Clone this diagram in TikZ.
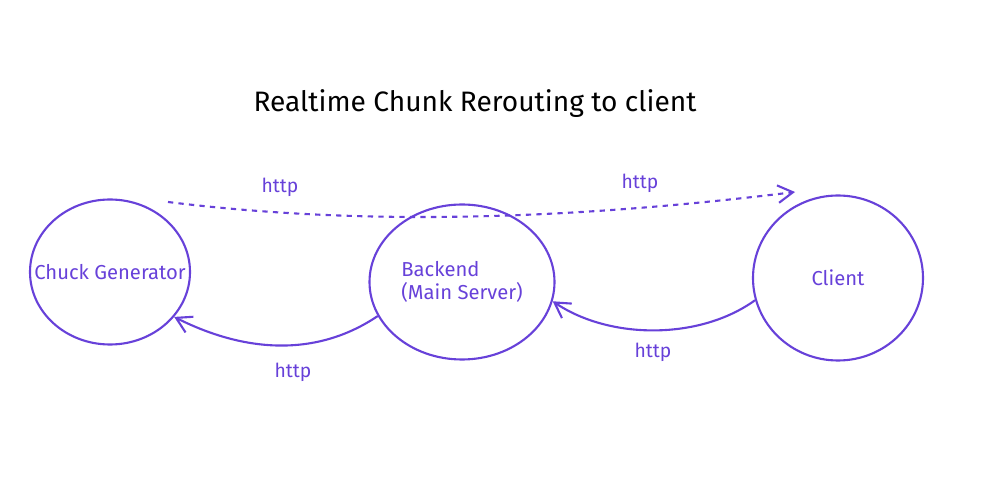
\documentclass[tikz,border=0pt]{standalone}
\usepackage{fontspec}
\setmainfont{Fira Sans}
\usetikzlibrary{shapes.geometric,arrows.meta}
\definecolor{violet}{HTML}{6741D9}
\tikzset{
  blob/.style={draw=violet,ellipse,inner sep=0pt,line width=1.2pt,text=violet,font=\fontsize{11.5}{13.5}\selectfont},
  link/.style={draw=violet,line width=1.2pt,-{Straight Barb[length=3mm,width=3.5mm]}},
  lbl/.style={text=violet,font=\fontsize{11}{13}\selectfont}
}
\begin{document}
\begin{tikzpicture}
\useasboundingbox (0,0) rectangle (20,9.64);
\node (title) at (9.5,7.56) {\fontsize{16}{19}\selectfont Realtime Chunk Rerouting to client};
\node[blob,minimum width=3.2cm,minimum height=2.9cm,
  label={[text=violet,font=\fontsize{11.5}{13.5}\selectfont]center:Chuck Generator}] (gen) at (2.2,4.2) {};
\node[blob,minimum width=3.7cm,minimum height=3.1cm,align=left] (backend) at (9.24,4.0) {Backend\\(Main Server)};
\node[blob,minimum width=3.4cm,minimum height=3.3cm] (client) at (16.76,4.08) {Client};
\coordinate (start) at (3.36,5.6);
\coordinate (stop) at (15.9,5.8);
% dashed request path over the top
\draw[link,dashed] (start) .. controls (7,5.15) and (11,5.2) .. (stop);
\draw[link] (backend.-158) .. controls (6.4,2.54) and (5,2.54) .. (gen.-35);
\draw[link] (client.195) .. controls (14,2.84) and (12.2,2.84) .. (backend.-12);
\node[lbl] (h1) at (5.6,5.9) {http};
\node[lbl] (h2) at (12.8,5.98) {http};
\node[lbl] (h3) at (5.86,2.2) {http};
\node[lbl] (h4) at (13.06,2.6) {http};
\end{tikzpicture}
\end{document}
